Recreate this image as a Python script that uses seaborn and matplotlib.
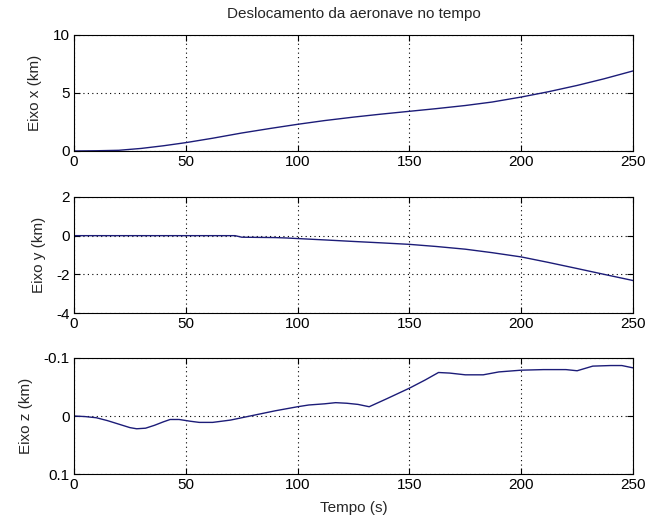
import numpy as np
import pandas as pd
import matplotlib
matplotlib.use("Agg")
import matplotlib.pyplot as plt
import seaborn as sns

# ---- data ----
t_x = [0, 10, 20, 30, 40, 50, 62, 75, 88, 100, 112, 125, 137, 150, 162, 175, 187, 200, 212, 225, 237, 250]
x_km = [0.0, 0.02, 0.06, 0.22, 0.45, 0.72, 1.1, 1.55, 1.95, 2.3, 2.62, 2.92, 3.17, 3.42, 3.65, 3.92, 4.22, 4.65, 5.1, 5.65, 6.22, 6.9]

t_y = [0, 25, 50, 72, 75, 90, 95, 100, 112, 125, 137, 150, 162, 175, 187, 200, 212, 225, 237, 250]
y_km = [0.0, 0.0, 0.0, 0.0, -0.08, -0.1, -0.12, -0.15, -0.22, -0.3, -0.37, -0.45, -0.56, -0.7, -0.88, -1.1, -1.38, -1.7, -2.0, -2.32]

t_z = [0, 5, 10, 15, 20, 25, 28, 32, 36, 40, 43, 47, 52, 56, 62, 70, 80, 90, 100, 105, 112, 117, 122, 127, 132, 140, 150, 157, 163, 168, 175, 183, 190, 200, 210, 220, 225, 232, 240, 245, 250]
z_km = [0.0, 0.001, 0.003, 0.008, 0.014, 0.02, 0.022, 0.021, 0.016, 0.01, 0.006, 0.006, 0.009, 0.011, 0.011, 0.007, -0.001, -0.009, -0.016, -0.019, -0.021, -0.023, -0.022, -0.02, -0.016, -0.03, -0.048, -0.062, -0.075, -0.074, -0.071, -0.071, -0.076, -0.079, -0.08, -0.08, -0.078, -0.086, -0.087, -0.087, -0.083]

title = "Deslocamento da aeronave no tempo"
ylabels = ["Eixo x (km)", "Eixo y (km)", "Eixo z (km)"]
xlabel = "Tempo (s)"
xticks = [0, 50, 100, 150, 200, 250]
yticks_list = [[0, 5, 10], [-4, -2, 0, 2], [-0.1, 0, 0.1]]
ytick_labels = [["0", "5", "10"], ["-4", "-2", "0", "2"], ["-0.1", "0", "0.1"]]
ylims = [(0, 10), (-4, 2), (0.1, -0.1)]

sns.set_style("white")
plt.rcParams['font.family'] = ['Liberation Sans Narrow', 'Liberation Sans', 'DejaVu Sans']
plt.rcParams['font.size'] = 10.5

fig = plt.figure(figsize=(6.47, 5.25), dpi=100)
left, width = 0.1144, 0.864
height = 0.221
bottoms = [0.7124, 0.4038, 0.0971]
datasets = [(t_x, x_km), (t_y, y_km), (t_z, z_km)]
line_color = "#1c1c78"

for i, (b, (tt, vv)) in enumerate(zip(bottoms, datasets)):
    ax = fig.add_axes([left, b, width, height])
    df = pd.DataFrame({"t": tt, "v": vv})
    sns.lineplot(data=df, x="t", y="v", ax=ax, color=line_color, linewidth=1.0)
    ax.set_xlim(0, 250)
    ax.set_ylim(*ylims[i])
    ax.set_xticks(xticks)
    ax.set_xticklabels([str(v) for v in xticks])
    ax.set_yticks(yticks_list[i])
    ax.set_yticklabels(ytick_labels[i])
    ax.grid(True, linestyle=(0, (1, 3)), color="black", linewidth=0.8)
    ax.tick_params(direction="in", length=4, width=0.8, top=True, right=True,
                   bottom=True, left=True, labelsize=11, colors="black", pad=3)
    for s in ax.spines.values():
        s.set_color("black")
        s.set_linewidth(0.8)
    ax.set_ylabel(ylabels[i], fontsize=11, labelpad=7.5)
    ax.set_xlabel("")
    if i == 0:
        ax.set_title(title, fontsize=11, pad=12.5)
    if i == 2:
        ax.set_xlabel(xlabel, fontsize=11, labelpad=6.5)

fig.savefig("out.png", dpi=100)
